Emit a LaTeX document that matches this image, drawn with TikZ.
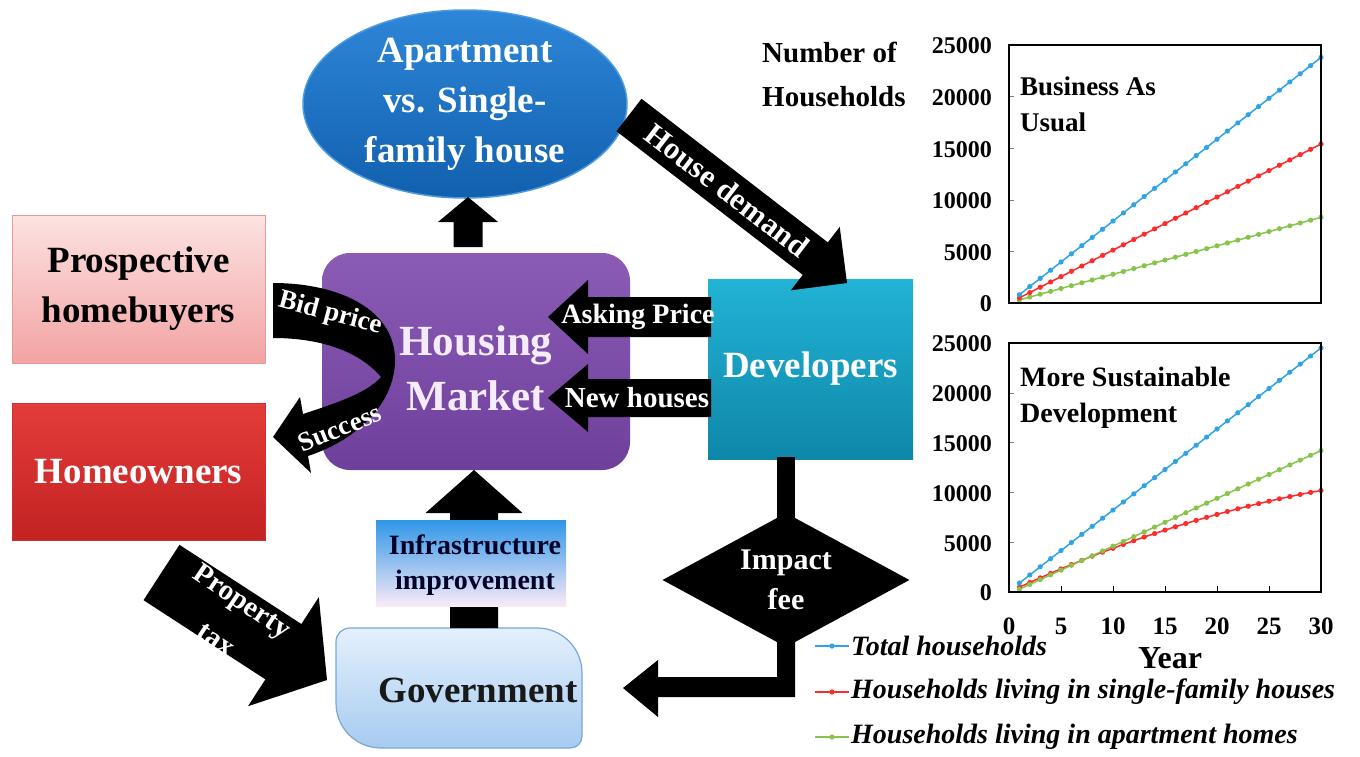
\documentclass[tikz,border=0pt]{standalone}
\usepackage{fontspec}
\setmainfont{Liberation Serif}
\usetikzlibrary{calc,shapes.geometric}
\newcommand\fsz[2]{\fontsize{#1}{#2}\selectfont}
\definecolor{pinkT}{HTML}{FCE2E2}
\definecolor{pinkB}{HTML}{F3A3A3}
\definecolor{pinkD}{HTML}{E89A9A}
\definecolor{redT}{HTML}{E43C3A}
\definecolor{redB}{HTML}{C22222}
\definecolor{redD}{HTML}{D03030}
\definecolor{purT}{HTML}{8A5CB6}
\definecolor{purB}{HTML}{6E409B}
\definecolor{cyanT}{HTML}{22B3D5}
\definecolor{cyanB}{HTML}{0E87A9}
\definecolor{ellT}{HTML}{2E86D8}
\definecolor{ellB}{HTML}{1160AE}
\definecolor{ellD}{HTML}{4C9BE0}
\definecolor{govT}{HTML}{E4F0FC}
\definecolor{govB}{HTML}{A6CBF0}
\definecolor{govD}{HTML}{7AA6D6}
\definecolor{infT}{HTML}{2F96E8}
\definecolor{infB}{HTML}{FAEAF6}
\definecolor{mktTxt}{HTML}{F4ECFA}
\definecolor{cblue}{HTML}{2EA3E6}
\definecolor{cred}{HTML}{FF2A2A}
\definecolor{cgreen}{HTML}{86C44A}
% block arrow: [colour]{tail}{tip}{half shaft}{half head}{head length}
\newcommand\blockarrow[6][black]{%
  \path (#2) coordinate (ba-t) (#3) coordinate (ba-p);
  \path ($(ba-p)!#6!(ba-t)$) coordinate (ba-b);
  \fill[#1] ($(ba-t)!#4!90:(ba-p)$) -- ($(ba-b)!#4!-90:(ba-t)$) -- ($(ba-b)!#5!-90:(ba-t)$) -- (ba-p) -- ($(ba-b)!#5!90:(ba-t)$) -- ($(ba-b)!#4!90:(ba-t)$) -- ($(ba-t)!#4!-90:(ba-p)$) -- cycle;}
\begin{document}
\begin{tikzpicture}[x=1pt,y=-1pt,
  bx/.style={rectangle, inner sep=0pt, align=center, line width=1pt},
  atxt/.style={text=white, inner sep=0pt, align=center},
  tick/.style={anchor=east, inner sep=0pt, font=\fsz{24}{28}\bfseries},
  xtick/.style={inner sep=0pt, font=\fsz{25}{28}\bfseries},
  leg/.style={anchor=west, inner sep=0pt, font=\fsz{28}{30}\bfseries\itshape},
  ctitle/.style={anchor=west, inner sep=0pt, align=left, font=\fsz{27}{36}\bfseries}]
\useasboundingbox (0,0) rectangle (1360,756);
\fill[white] (0,0) rectangle (1360,756);

% ---------- main boxes ----------
\node[ellipse, minimum width=324pt, minimum height=188pt, inner sep=0pt,
  top color=ellT, bottom color=ellB, draw=ellD, line width=1.5pt,
  align=center, text=white, font=\fsz{37}{50}\bfseries] (ell) at (465,104)
  {Apartment\\vs. Single-\\family house};

\node[bx, minimum width=253pt, minimum height=148pt, top color=pinkT, bottom color=pinkB,
  draw=pinkD, font=\fsz{37}{50}\bfseries] (buy) at (138.5,289) {Prospective\\homebuyers};

\node[bx, minimum width=253pt, minimum height=137pt, top color=redT, bottom color=redB,
  draw=redD, text=white, font=\fsz{37}{50}\bfseries] (own) at (138.5,471.5) {Homeowners};

\node[bx, rounded corners=28pt, minimum width=308pt, minimum height=217pt,
  top color=purT, bottom color=purB] (mkt) at (476,361.5) {};
\node[atxt, text=mktTxt, font=\fsz{43}{55}\bfseries] (mkttxt) at (476,368) {Housing\\Market};

\node[bx, minimum width=205pt, minimum height=180pt, top color=cyanT, bottom color=cyanB,
  text=white, font=\fsz{37}{50}\bfseries] (dev) at (810.5,369) {Developers};

% government (round diagonal corners)
\node[bx, minimum width=246pt, minimum height=120pt] (gov) at (459,688) {};
\shadedraw[top color=govT, bottom color=govB, draw=govD, line width=1.2pt]
  (350,628) -- (537,628) .. controls (562,628) and (582,648) .. (582,673)
  -- (582,736) .. controls (582,743) and (577,748) .. (570,748)
  -- (381,748) .. controls (356,748) and (336,728) .. (336,703)
  -- (336,642) .. controls (336,634) and (342,628) .. (350,628) -- cycle;
\node[inner sep=0pt, font=\fsz{37}{50}\bfseries, text=black!90] (govtxt) at (478,690) {Government};

% ---------- arrows ----------
\coordinate (u1t) at (468,247);
\coordinate (u1p) at (468,197);
\blockarrow{u1t}{u1p}{14.5pt}{30pt}{25pt}

\coordinate (u2t) at (474,628);
\coordinate (u2p) at (474,470);
\blockarrow{u2t}{u2p}{24pt}{48.5pt}{43pt}

\node[bx, minimum width=190pt, minimum height=86pt, top color=infT, bottom color=infB,
  text={black!85!blue}, font=\fsz{28}{35}\bfseries] (inf) at (471,563) {};
\node[inner sep=0pt, align=center, text={black!85!blue}, font=\fsz{28}{35}\bfseries] (inftxt)
  at (475,565) {Infrastructure\\improvement};

% asking price / new houses
\coordinate (apt) at (711,317);
\coordinate (app) at (548,317);
\blockarrow{apt}{app}{20pt}{37pt}{40pt}
\node[atxt, font=\fsz{28}{32}\bfseries] (askt) at (638,317) {Asking Price};

\coordinate (nht) at (711,398);
\coordinate (nhp) at (548,398);
\blockarrow{nht}{nhp}{19pt}{34pt}{40pt}
\node[atxt, font=\fsz{29}{32}\bfseries] (newt) at (637,398) {New houses};

% house demand
\coordinate (hdt) at (629,115);
\coordinate (hdp) at (847,283);
\blockarrow{hdt}{hdp}{20.5pt}{40pt}{40pt}
\node[atxt, font=\fsz{31}{34}\bfseries, rotate=-37.6] (hdtxt) at (727,190) {House demand};

% bid price / success curved arrow
\fill[black] (273,283) .. controls (340,283) and (395,310) .. (395,360)
  .. controls (395,400) and (362,438) .. (308,456)
  -- (311,473) -- (273,437) -- (300,397) -- (303,414)
  .. controls (340,402) and (368,392) .. (381,377)
  .. controls (360,352) and (322,338) .. (273,338) -- cycle;
\node[atxt, font=\fsz{27}{30}\bfseries, rotate=-15] (bidt) at (330,314) {Bid price};
\node[atxt, font=\fsz{27}{30}\bfseries, rotate=22] (suct) at (340,428) {Success};

% property tax
\coordinate (ptt) at (161.5,572.5);
\coordinate (ptp) at (327,680);
\blockarrow{ptt}{ptp}{33pt}{65pt}{52pt}
\node[atxt, font=\fsz{29}{32}\bfseries, rotate=-34] (pttxt1) at (241,603) {Property};
\node[atxt, font=\fsz{29}{32}\bfseries, rotate=-34] (pttxt2) at (216,640) {tax};

% impact fee
\fill[black] (777,457) rectangle (795,520);
\node[diamond, fill=black, minimum width=247pt, minimum height=134pt, aspect=1.84,
  inner sep=0pt, text=white, align=center, font=\fsz{30}{40}\bfseries] (fee) at (786,580) {Impact\\fee};
\fill[black] (777,640) -- (777,677) -- (658,677) -- (658,660) -- (623,688)
  -- (658,717) -- (658,697) -- (795,697) -- (795,640) -- cycle;

% ---------- charts ----------
\node[anchor=west, inner sep=0pt, align=left, font=\fsz{29}{44}\bfseries] (nhh) at (762,74)
  {Number of\\Households};

\foreach \lab [count=\k from 0] in {0,5000,10000,15000,20000,25000} {
  \node[tick] (ua\k) at (992,{304-51.6*\k}) {\lab};
  \node[tick] (la\k) at (992,{593-49.8*\k}) {\lab};
}
\foreach \k in {1,...,4} {
  \draw[gray, line width=0.6pt] (1009,{303-51.6*\k}) -- (1014,{303-51.6*\k});
  \draw[gray, line width=0.6pt] (1009,{592-49.8*\k}) -- (1014,{592-49.8*\k});
}
\foreach \t in {0,5,...,30} {
  \node[xtick] (xt\t) at ({1009+10.4*\t},626) {\t};
}
\foreach \t in {5,10,...,25} {
  \draw[black, line width=1pt] ({1009+10.4*\t},592) -- ({1009+10.4*\t},586);
}

% upper chart data
\draw[cgreen, line width=1.5pt] plot[domain=1:30, samples=30] ({1009+10.4*\x},{303-2.848*\x-0.25});
\draw[cred, line width=1.5pt] plot[domain=1:30, samples=30] ({1009+10.4*\x},{303-5.304*\x+0.14});
\draw[cblue, line width=1.5pt] plot[domain=1:30, samples=30] ({1009+10.4*\x},{303-8.184*\x-0.07});
\foreach \t in {1,...,30} {
  \fill[cgreen] ({1009+10.4*\t},{303-2.848*\t-0.25}) circle (2.6pt);
  \fill[cred] ({1009+10.4*\t},{303-5.304*\t+0.14}) circle (2.6pt);
  \fill[cblue] ({1009+10.4*\t},{303-8.184*\t-0.07}) circle (2.6pt);
}
% lower chart data
\draw[cred, line width=1.5pt] plot[domain=1:30, samples=30] ({1009+10.4*\x},{592-4.870*\x+0.0495*\x*\x});
\draw[cgreen, line width=1.5pt] plot[domain=1:30, samples=30] ({1009+10.4*\x},{592-4.781*\x+1.99});
\draw[cblue, line width=1.5pt] plot[domain=1:30, samples=30] ({1009+10.4*\x},{592-8.107*\x-0.86});
\foreach \t in {1,...,30} {
  \fill[cred] ({1009+10.4*\t},{592-4.870*\t+0.0495*\t*\t}) circle (2.6pt);
  \fill[cgreen] ({1009+10.4*\t},{592-4.781*\t+1.99}) circle (2.6pt);
  \fill[cblue] ({1009+10.4*\t},{592-8.107*\t-0.86}) circle (2.6pt);
}

\draw[line width=2.4pt] (1009,45) rectangle (1321,303);
\draw[line width=2.4pt] (1009,343) rectangle (1321,592);

\node[ctitle] (bau) at (1020,104) {Business As\\Usual};
\node[ctitle, font=\fsz{28}{36}\bfseries] (msd) at (1020,398) {More Sustainable\\Development};
\node[inner sep=0pt, font=\fsz{32}{36}\bfseries] (year) at (1170,658) {Year};

% legend
\foreach \c/\yy/\txt [count=\i] in {cblue/646/Total households,
    cred/692/Households living in single-family houses,
    cgreen/737/Households living in apartment homes} {
  \draw[\c, line width=1.5pt] (815,\yy) -- (849,\yy);
  \fill[\c] (832,\yy) circle (2.6pt);
  \node[leg] (leg\i) at (851,\yy) {\txt};
}
\end{tikzpicture}
\end{document}
